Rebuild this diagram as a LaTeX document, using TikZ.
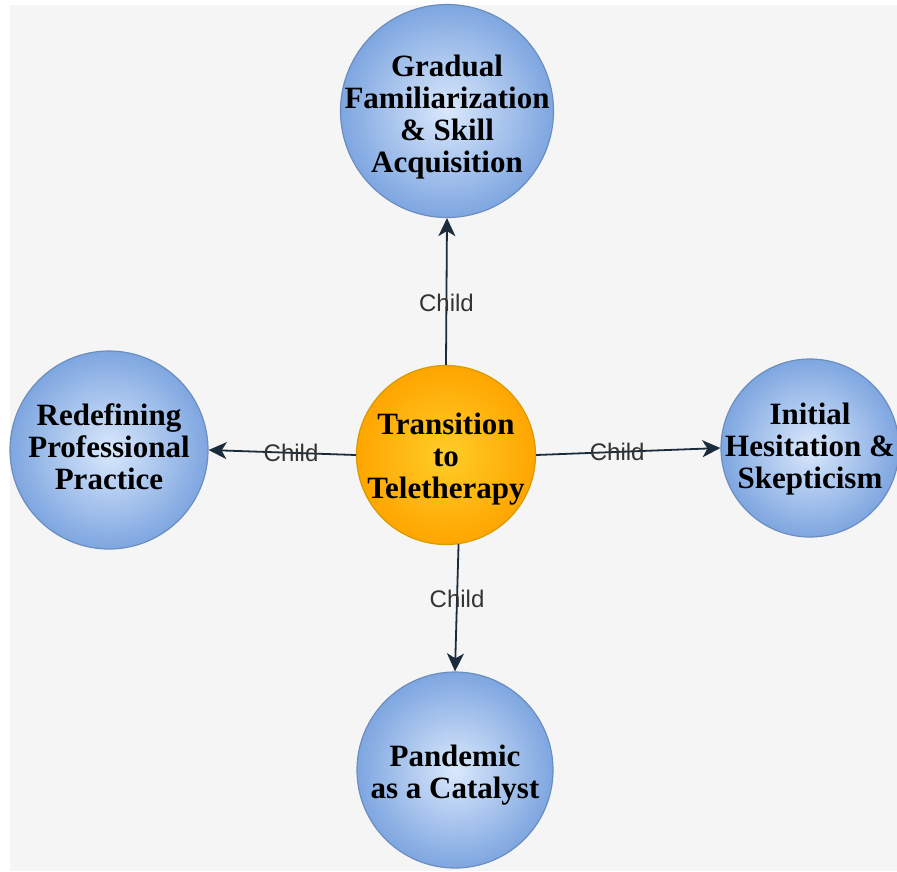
\documentclass[tikz,border=0pt]{standalone}
\usepackage{fontspec}
\setmainfont{Liberation Serif}
\newfontfamily\lblfont{Liberation Sans}
\usetikzlibrary{arrows.meta}
\definecolor{pagebg}{HTML}{F5F5F5}
\definecolor{blueIn}{HTML}{DAE8FC}
\definecolor{blueOut}{HTML}{7EA6E0}
\definecolor{blueLine}{HTML}{6C8EBF}
\definecolor{orIn}{HTML}{FFCD28}
\definecolor{orOut}{HTML}{FFA500}
\definecolor{orLine}{HTML}{D79B00}
\definecolor{edgeCol}{HTML}{1A2B3B}
\definecolor{lblCol}{HTML}{333333}
\tikzset{
  topic/.style={circle, inner sep=0pt, draw=blueLine, line width=1.2pt,
    shading=radial, inner color=blueIn, outer color=blueOut},
  hub/.style={topic, draw=orLine, inner color=orIn, outer color=orOut},
  caption/.style={inner sep=0pt, align=center, text=black,
    font=\bfseries\fontsize{31}{32}\selectfont},
  childedge/.style={draw=edgeCol, line width=1.8pt, -{Stealth[length=18pt, width=17pt, inset=5pt]}},
  lbl/.style={font=\lblfont\fontsize{24}{25}\selectfont, text=lblCol, inner sep=0pt}
}
\begin{document}
\begin{tikzpicture}[x=1pt, y=-1pt]
  % canvas
  \useasboundingbox (0,0) rectangle (897,871);
  \fill[white] (0,0) rectangle (897,871);
  \fill[pagebg] (10,5) rectangle (897,871);

  % circles, each with its caption set on top of it (the caption may overflow the rim)
  \node[hub, minimum size=179pt,
    label={[caption, yshift=-4pt]center:Transition\\to\\Teletherapy}] (hubnode) at (446,455) {};
  \node[topic, minimum size=213pt,
    label={[caption, yshift=-6pt]center:Gradual\\Familiarization\\\& Skill\\Acquisition}] (gradual) at (447,111) {};
  \node[topic, minimum size=198pt,
    label={[caption, yshift=3pt]center:Redefining\\Professional\\Practice}] (redef) at (109,450) {};
  \node[topic, minimum size=178pt,
    label={[caption, yshift=-1pt]center:Initial\\Hesitation \&\\Skepticism}] (initial) at (810,448) {};
  \node[topic, minimum size=196pt,
    label={[caption, yshift=-5pt]center:Pandemic\\as a Catalyst}] (pandemic) at (455,770) {};

  % connectors
  \draw[childedge] (hubnode.north) -- node[lbl, pos=0.42] {Child} (gradual.south);
  \draw[childedge] (hubnode.west) -- node[lbl, pos=0.44] {Child} (redef.east);
  \draw[childedge] (hubnode.east) -- node[lbl, pos=0.44] {Child} (initial.west);
  \draw[childedge] (hubnode.-82) -- node[lbl, pos=0.43] {Child} (pandemic.north);
\end{tikzpicture}
\end{document}
